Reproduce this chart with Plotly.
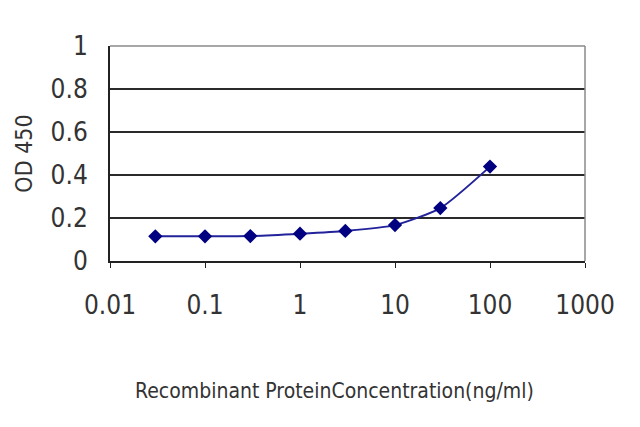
import plotly.graph_objects as go

# concentration (ng/ml) and OD 450 readings
concentration = [0.03, 0.1, 0.3, 1, 3, 10, 30, 100]
od450 = [0.115, 0.115, 0.116, 0.127, 0.14, 0.167, 0.246, 0.439]

x_ticks = [0.01, 0.1, 1, 10, 100, 1000]
x_ticktext = ["0.01", "0.1", "1", "10", "100", "1000"]
y_ticks = [0, 0.2, 0.4, 0.6, 0.8, 1]
y_ticktext = ["0", "0.2", "0.4", "0.6", "0.8", "1"]

FONT = "Liberation Sans Narrow, DejaVu Sans Condensed, Arial Narrow, sans-serif"

fig = go.Figure()
fig.add_trace(
    go.Scatter(
        x=concentration,
        y=od450,
        mode="lines+markers",
        line=dict(color="#22229a", width=2, shape="spline", smoothing=0.6),
        marker=dict(symbol="diamond", size=11, color="#000080"),
        showlegend=False,
    )
)

# grey frame on top and right, as in the original
fig.add_shape(type="line", xref="paper", yref="paper", x0=0, x1=1, y0=1, y1=1,
              line=dict(color="#8a8a8a", width=1.5))
fig.add_shape(type="line", xref="paper", yref="paper", x0=1, x1=1, y0=0, y1=1,
              line=dict(color="#8a8a8a", width=1.5))

# x title sits a little left of centre in the original
fig.add_annotation(
    text="Recombinant ProteinConcentration(ng/ml)",
    xref="paper", yref="paper", x=0.472, y=-0.605,
    xanchor="center", yanchor="middle", showarrow=False,
    font=dict(size=21, color="#333333"),
)

# page body has an 8px margin, so the plot margins are pulled in by 8
fig.update_layout(
    width=640,
    height=427,
    margin=dict(l=102, r=63, t=38, b=174),
    paper_bgcolor="white",
    plot_bgcolor="white",
    font=dict(family=FONT, color="#333333"),
    xaxis=dict(
        type="log",
        range=[-2, 3],
        tickvals=x_ticks,
        ticktext=x_ticktext,
        tickfont=dict(size=26),
        ticks="outside",
        ticklen=5,
        tickcolor="#222",
        ticklabelstandoff=15,
        showline=True,
        linecolor="#222",
        linewidth=2,
        showgrid=False,
        zeroline=False,
    ),
    yaxis=dict(
        range=[0, 1],
        tickvals=y_ticks,
        ticktext=y_ticktext,
        tickfont=dict(size=26),
        ticklabelstandoff=15,
        showline=True,
        linecolor="#222",
        linewidth=2,
        showgrid=True,
        gridcolor="#2a2a2a",
        gridwidth=2,
        zeroline=False,
        title=dict(text="OD 450", font=dict(size=23), standoff=12),
    ),
)

fig.write_html("out.html")
